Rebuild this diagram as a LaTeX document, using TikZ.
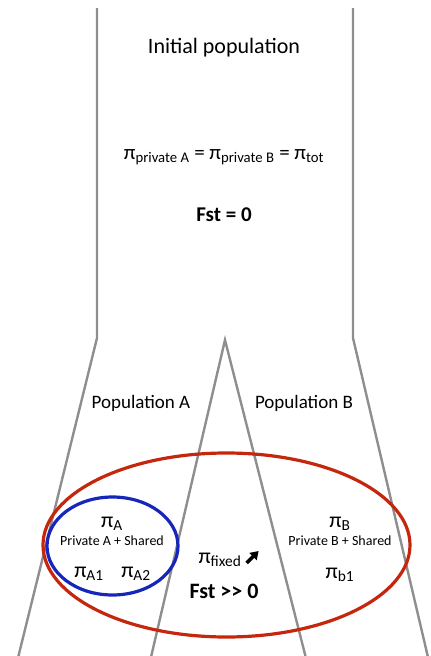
\documentclass[tikz,border=0pt]{standalone}
\usepackage{fontspec}
\setmainfont{Carlito}
\usetikzlibrary{arrows.meta, calc}
\definecolor{branchc}{HTML}{8E8E8E}
\definecolor{redc}{HTML}{C4270E}
\definecolor{bluec}{HTML}{1626B8}
\newcommand{\pis}[1]{π\textsubscript{#1}}
\newcommand{\fsz}[1]{\fontsize{#1}{#1}\selectfont}

\begin{document}
\begin{tikzpicture}[x=1pt, y=-1pt, >=Stealth,
      branch/.style={branchc, line width=2.4pt},
      txt/.style={font=\fsz{21}, inner sep=0pt},
      small/.style={font=\fsz{14}, inner sep=0pt}]
    \clip (0,0) rectangle (431,656);
    % tree outline
    \draw[branch] (97,8) -- (97,338) -- (15,670);
    \draw[branch] (353,8) -- (353,338) -- (431,670);
    \draw[branch] (148,670) -- (225,340) -- (309,670);
    % groups
    \draw[redc, line width=3.2pt] (226.5,545) ellipse (183.5 and 92);
    \draw[bluec, line width=3.2pt] (112.5,546) ellipse (65.5 and 49);
    % initial population
    \node[txt, font=\fsz{22}] (init) at (224,48) {Initial population};
    \node[txt] (eq) at (224,157) {\pis{private A} = \pis{private B} = \pis{tot}};
    \node[txt, font=\fsz{21}\bfseries] (fst0) at (224,215) {Fst = 0};
    \node[txt, font=\fsz{19}] (popA) at (141,403) {Population A};
    \node[txt, font=\fsz{19}] (popB) at (304,403) {Population B};
    % population A
    \node[txt, font=\fsz{22}] (piA) at (112,524) {\pis{A}};
    \node[small] (shA) at (112,541) {Private A + Shared};
    \node[txt, font=\fsz{22}] (piA1) at (89,574) {\pis{A1}};
    \node[txt, font=\fsz{22}] (piA2) at (136,574) {\pis{A2}};
    % population B
    \node[txt, font=\fsz{22}] (piB) at (340,524) {\pis{B}};
    \node[small] (shB) at (340,541) {Private B + Shared};
    \node[txt, font=\fsz{22}] (pib1) at (340,575) {\pis{b1}};
    % shared part
    \node[txt, font=\fsz{22}] (fixed) at (220,560) {\pis{fixed}};
    \coordinate (up) at ($(fixed.east)+(5,3)$);
    \draw[-{Triangle[length=8pt, width=10pt]}, line width=3.4pt]
      (up) -- ++(12,-12);
    \node[txt, font=\fsz{22}\bfseries] (fstA) at (224,591) {Fst {>}{>} 0};
  \end{tikzpicture}
\end{document}
